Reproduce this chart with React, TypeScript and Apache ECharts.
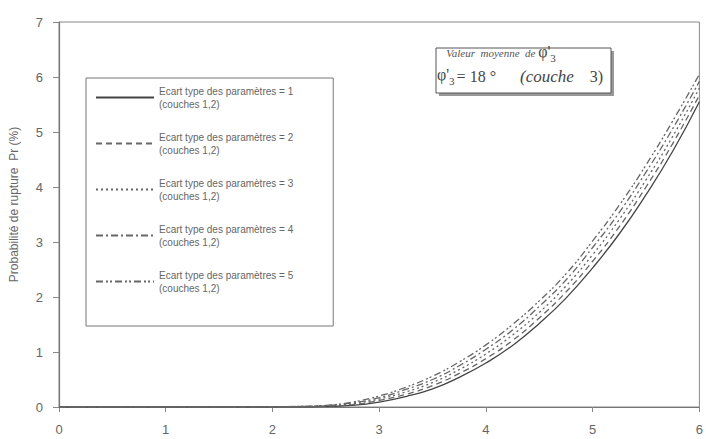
import React, { useEffect, useRef } from "react";
import * as echarts from "echarts";

const xValues = [0, 0.5, 1, 1.5, 2, 2.25, 2.5, 2.75, 3, 3.25, 3.5, 3.75, 4, 4.25, 4.5, 4.75, 5, 5.25, 5.5, 5.75, 6];
const ecart1 = [0, 0, 0, 0, 0, 0.003, 0.01, 0.03, 0.09, 0.19, 0.33, 0.54, 0.8, 1.12, 1.52, 1.98, 2.53, 3.15, 3.86, 4.65, 5.55];
const ecart2 = [0, 0, 0, 0, 0.001, 0.005, 0.015, 0.045, 0.12, 0.23, 0.39, 0.61, 0.88, 1.21, 1.62, 2.09, 2.65, 3.28, 4.0, 4.79, 5.67];
const ecart3 = [0, 0, 0, 0, 0.002, 0.007, 0.02, 0.06, 0.145, 0.275, 0.445, 0.68, 0.965, 1.31, 1.72, 2.2, 2.77, 3.41, 4.13, 4.92, 5.8];
const ecart4 = [0, 0, 0, 0, 0.004, 0.01, 0.025, 0.075, 0.17, 0.32, 0.5, 0.75, 1.05, 1.4, 1.83, 2.31, 2.9, 3.54, 4.27, 5.06, 5.92];
const ecart5 = [0, 0, 0, 0, 0.005, 0.012, 0.03, 0.09, 0.2, 0.36, 0.56, 0.82, 1.13, 1.5, 1.93, 2.42, 3.02, 3.67, 4.4, 5.2, 6.05];

const seriesNames = [
  "Ecart type des paramètres = 1",
  "Ecart type des paramètres = 2",
  "Ecart type des paramètres = 3",
  "Ecart type des paramètres = 4",
  "Ecart type des paramètres = 5",
];
const seriesValues = [ecart1, ecart2, ecart3, ecart4, ecart5];
const dashTypes: any[] = ["solid", [6, 4], [2, 3], [7, 3, 2, 3], [7, 3, 2, 2, 2, 3]];
const lineColors = ["#444", "#666", "#666", "#666", "#666"];
const legendSuffix = "(couches 1,2)";
const yAxisTitle = "Probabilité de rupture  Pr (%)";

const serif = "'Liberation Serif', 'DejaVu Serif', serif";
const sans = "'Liberation Sans', Arial, sans-serif";

const annotRich = {
  it: { font: `italic 11px ${serif}`, fill: "#555", lineHeight: 20, verticalAlign: "middle" },
  phi: { font: `16px ${serif}`, fill: "#444", lineHeight: 20, verticalAlign: "top" },
  sub: { font: `11px ${serif}`, fill: "#444", lineHeight: 18, verticalAlign: "bottom", padding: [4, 2, 0, 0] },
  n: { font: `16px ${serif}`, fill: "#444", lineHeight: 20, verticalAlign: "middle" },
  it2: { font: `italic 17px ${serif}`, fill: "#444", lineHeight: 20, verticalAlign: "middle" },
};

export default function App() {
  const ref = useRef<HTMLDivElement>(null);
  useEffect(() => {
    if (!ref.current) return;
    const chart = echarts.init(ref.current, undefined, { renderer: "svg" });
    const series = seriesNames.map((name, i) => ({
      name,
      type: "line",
      smooth: true,
      symbol: "none",
      data: xValues.map((x, j) => [x, seriesValues[i][j]]),
      lineStyle: { color: lineColors[i], width: 1.3, type: dashTypes[i] },
      itemStyle: { color: lineColors[i] },
    }));
    chart.setOption({
      animation: false,
      backgroundColor: "#ffffff",
      grid: {
        left: 55,
        right: 6,
        top: 22,
        bottom: 32,
        show: true,
        borderColor: "#888",
        borderWidth: 1,
      },
      xAxis: {
        type: "value",
        min: 0,
        max: 6,
        interval: 1,
        splitLine: { show: false },
        axisLine: { lineStyle: { color: "#777", width: 1.2 } },
        axisTick: { show: true, length: 5, lineStyle: { color: "#888" } },
        axisLabel: { color: "#666", fontSize: 13, margin: 16, fontFamily: sans },
      },
      yAxis: {
        type: "value",
        min: 0,
        max: 7,
        interval: 1,
        splitLine: { show: false },
        axisLine: { show: true, lineStyle: { color: "#777", width: 1.2 } },
        axisTick: { show: true, length: 6, lineStyle: { color: "#888" } },
        axisLabel: { color: "#666", fontSize: 13, margin: 16, fontFamily: sans },
        name: yAxisTitle,
        nameLocation: "middle",
        nameGap: 39,
        nameTextStyle: { color: "#666", fontSize: 12, fontFamily: sans, padding: [0, 0, 0, 20] },
      },
      legend: {
        orient: "vertical",
        left: 86,
        top: 78,
        padding: [0, 40, 25, 9],
        itemGap: 7,
        itemWidth: 58,
        itemHeight: 12,
        borderColor: "#777",
        borderWidth: 1,
        backgroundColor: "#fff",
        itemStyle: { opacity: 0 },
        data: seriesNames,
        formatter: (name: string) => name + "\n" + legendSuffix,
        textStyle: {
          color: "#666",
          fontSize: 10,
          lineHeight: 13,
          fontFamily: sans,
          padding: [13, 0, 0, 0],
        },
      },
      graphic: [
        { type: "rect", shape: { x: 439, y: 51, width: 175, height: 45 }, style: { fill: "#999" }, silent: true },
        { type: "rect", shape: { x: 436, y: 48, width: 175, height: 45 }, style: { fill: "#fff", stroke: "#555", lineWidth: 1 }, silent: true },
        {
          type: "text",
          x: 438,
          y: 43,
          style: { text: "{it|   Valeur  moyenne  de }{phi|φ'}{sub|3}", rich: annotRich },
        },
        {
          type: "text",
          x: 437,
          y: 66,
          style: { text: "{phi|φ'}{sub|3}{n|= 18 °      }{it2|(couche}{n|    3)}", rich: annotRich },
        },
      ],
      series,
    });
    return () => chart.dispose();
  }, []);
  return <div ref={ref} style={{ position: "fixed", left: 0, top: 0, width: 706, height: 439 }} />;
}
